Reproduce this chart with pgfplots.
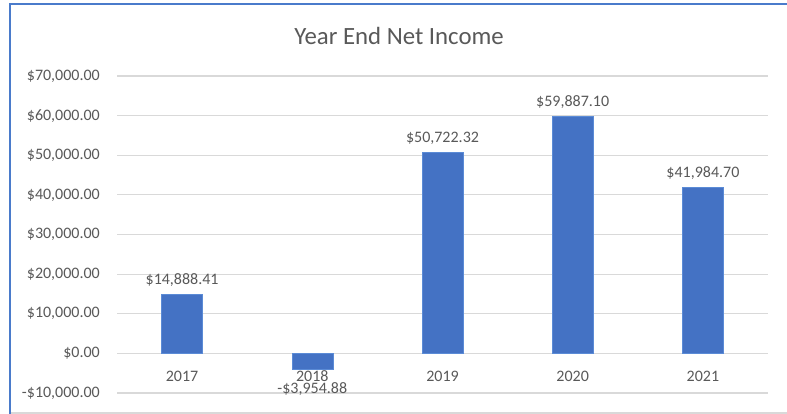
\documentclass[border=0pt]{standalone}
\usepackage{fontspec}
\setmainfont{Carlito}
\usepackage{pgfplots}
\pgfplotsset{compat=1.18}
\definecolor{barblue}{HTML}{4472C4}
\definecolor{baredge}{HTML}{5B8BD6}
\definecolor{txt}{HTML}{595959}
\definecolor{gridc}{HTML}{D9D9D9}
\definecolor{framec}{HTML}{4A7BCB}
\begin{document}
\begin{tikzpicture}
\useasboundingbox (0,0) rectangle (787bp,414bp);
\fill[white] (0,0) rectangle (787bp,414bp);
\draw[gridc, line width=1.5bp] (10bp,1bp) -- (787bp,1bp);
\draw[framec, line width=2bp] (10bp,0) -- (10bp,410bp) -- (787bp,410bp);
\begin{axis}[
  at={(117bp,21bp)}, anchor=south west, scale only axis,
  width=651bp, height=317bp,
  ymin=-10000, ymax=70000, xmin=-0.5, xmax=4.5,
  scaled y ticks=false,
  axis line style={draw=none}, tick style={draw=none},
  ymajorgrids, grid style={gridc, line width=1.2bp},
  ytick={-10000,0,10000,20000,30000,40000,50000,60000,70000},
  yticklabels={-\$10{,}000.00,\$0.00,\$10{,}000.00,\$20{,}000.00,\$30{,}000.00,\$40{,}000.00,\$50{,}000.00,\$60{,}000.00,\$70{,}000.00},
  xtick={0,1,2,3,4},
  xticklabels={2017,2018,2019,2020,2021},
  ticklabel style={font=\fontsize{16bp}{19bp}\selectfont, text=txt},
  yticklabel style={anchor=east, inner sep=0pt, xshift=-17bp},
  xticklabel style={anchor=base, inner sep=0pt, yshift=15.5bp},
  ybar, bar width=41bp,
  point meta=explicit symbolic,
  nodes near coords,
  every node near coord/.append style={font=\fontsize{16bp}{19bp}\selectfont, text=txt, inner sep=0pt, anchor=base},
]
\addplot[fill=barblue, draw=baredge, line width=0.6bp, bar shift=0pt,
  every node near coord/.append style={yshift=10bp}]
  table[meta=label] {
x y label
0 14888.41 \$14,888.41
2 50722.32 \$50,722.32
3 59887.10 \$59,887.10
4 41984.70 \$41,984.70
};
\addplot[fill=barblue, draw=baredge, line width=0.6bp, bar shift=0pt,
  every node near coord/.append style={yshift=-24bp}]
  table[meta=label] {
x y label
1 -3954.88 -\$3,954.88
};
\end{axis}
\node[anchor=base, font=\fontsize{24.8bp}{30bp}\selectfont, text=txt] at (399bp,369bp) {Year End Net Income};
\end{tikzpicture}
\end{document}
